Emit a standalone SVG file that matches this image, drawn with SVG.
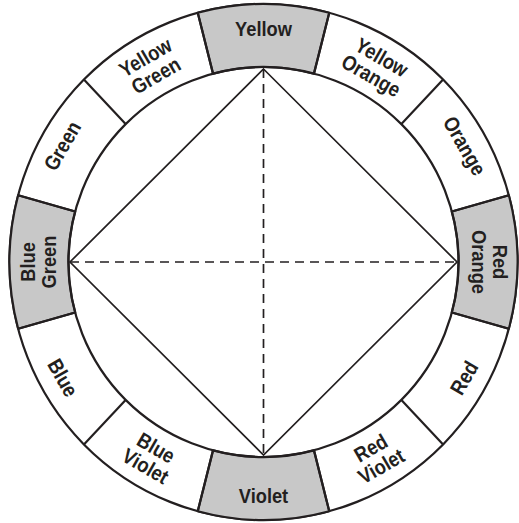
<svg xmlns="http://www.w3.org/2000/svg" width="519" height="523" viewBox="0 0 519 523">
  <style>
    .ring { fill: #ffffff; stroke: #231f20; stroke-width: 2.2; }
    .hi { fill: #c8c8c8; stroke: #231f20; stroke-width: 2.2; stroke-linejoin: round; }
    .div { stroke: #231f20; stroke-width: 2.2; fill: none; }
    .dia { fill: none; stroke: #231f20; stroke-width: 1.7; stroke-linejoin: miter; }
    .dash { stroke: #231f20; stroke-width: 1.7; stroke-dasharray: 9 6; fill: none; }
    .lbl { font-family: "Liberation Sans", Arial, sans-serif; font-weight: bold; font-size: 21px; fill: #231f20; text-anchor: middle; }
  </style>
  <rect width="519" height="523" fill="#ffffff"/>
  <g id="wheel">
    <ellipse class="ring" cx="263.5" cy="262" rx="254" ry="258"/>
    <path id="seg-yellow" class="hi" d="M197.76,12.79 A254,258 0 0 1 329.24,12.79 L313.97,73.64 A195,195 0 0 0 213.03,73.64 Z"/>
    <path id="seg-red-orange" class="hi" d="M508.84,195.23 A254,258 0 0 1 508.84,328.77 L451.86,312.47 A195,195 0 0 0 451.86,211.53 Z"/>
    <path id="seg-violet" class="hi" d="M329.24,511.21 A254,258 0 0 1 197.76,511.21 L213.03,450.36 A195,195 0 0 0 313.97,450.36 Z"/>
    <path id="seg-blue-green" class="hi" d="M18.16,328.77 A254,258 0 0 1 18.16,195.23 L75.14,211.53 A195,195 0 0 0 75.14,312.47 Z"/>
    <g class="div">
      <line x1="313.97" y1="73.64" x2="329.24" y2="12.79"/>
      <line x1="401.39" y1="124.11" x2="443.10" y2="79.57"/>
      <line x1="451.86" y1="211.53" x2="508.84" y2="195.23"/>
      <line x1="451.86" y1="312.47" x2="508.84" y2="328.77"/>
      <line x1="401.39" y1="399.89" x2="443.10" y2="444.43"/>
      <line x1="313.97" y1="450.36" x2="329.24" y2="511.21"/>
      <line x1="213.03" y1="450.36" x2="197.76" y2="511.21"/>
      <line x1="125.61" y1="399.89" x2="83.90" y2="444.43"/>
      <line x1="75.14" y1="312.47" x2="18.16" y2="328.77"/>
      <line x1="75.14" y1="211.53" x2="18.16" y2="195.23"/>
      <line x1="125.61" y1="124.11" x2="83.90" y2="79.57"/>
      <line x1="213.03" y1="73.64" x2="197.76" y2="12.79"/>
    </g>
    <circle class="div" cx="263.5" cy="262" r="195"/>
  </g>
  <g id="connectors">
    <path class="dia" d="M263.5,69 L457,262 L263.5,455 L70,262 Z"/>
    <line class="dash" x1="263.5" y1="69" x2="263.5" y2="455"/>
    <line class="dash" x1="70" y1="262" x2="457" y2="262"/>
  </g>
  <g id="label-yellow"><text class="lbl" transform="translate(263.5 36) scale(0.87 1)">Yellow</text></g>
  <g id="label-yellow-orange" transform="rotate(30 263.5 262)"><text class="lbl" transform="translate(263.5 33) scale(0.87 1)">Yellow</text><text class="lbl" transform="translate(263.5 54) scale(0.87 1)">Orange</text></g>
  <g id="label-orange" transform="rotate(60 263.5 262)"><text class="lbl" transform="translate(263.5 37) scale(0.87 1)">Orange</text></g>
  <g id="label-red-orange" transform="rotate(90 263.5 262)"><text class="lbl" transform="translate(263.5 33) scale(0.87 1)">Red</text><text class="lbl" transform="translate(263.5 54) scale(0.87 1)">Orange</text></g>
  <g id="label-red" transform="rotate(-60 263.5 262)"><text class="lbl" transform="translate(263.5 501) scale(0.87 1)">Red</text></g>
  <g id="label-red-violet" transform="rotate(-30 263.5 262)"><text class="lbl" transform="translate(263.5 484) scale(0.87 1)">Red</text><text class="lbl" transform="translate(263.5 505) scale(0.87 1)">Violet</text></g>
  <g id="label-violet"><text class="lbl" transform="translate(263.5 503) scale(0.87 1)">Violet</text></g>
  <g id="label-blue-violet" transform="rotate(30 263.5 262)"><text class="lbl" transform="translate(263.5 484) scale(0.87 1)">Blue</text><text class="lbl" transform="translate(263.5 505) scale(0.87 1)">Violet</text></g>
  <g id="label-blue" transform="rotate(60 263.5 262)"><text class="lbl" transform="translate(263.5 501) scale(0.87 1)">Blue</text></g>
  <g id="label-blue-green" transform="rotate(-90 263.5 262)"><text class="lbl" transform="translate(263.5 33) scale(0.87 1)">Blue</text><text class="lbl" transform="translate(263.5 54) scale(0.87 1)">Green</text></g>
  <g id="label-green" transform="rotate(-60 263.5 262)"><text class="lbl" transform="translate(263.5 37) scale(0.87 1)">Green</text></g>
  <g id="label-yellow-green" transform="rotate(-30 263.5 262)"><text class="lbl" transform="translate(263.5 33) scale(0.87 1)">Yellow</text><text class="lbl" transform="translate(263.5 54) scale(0.87 1)">Green</text></g>
</svg>
